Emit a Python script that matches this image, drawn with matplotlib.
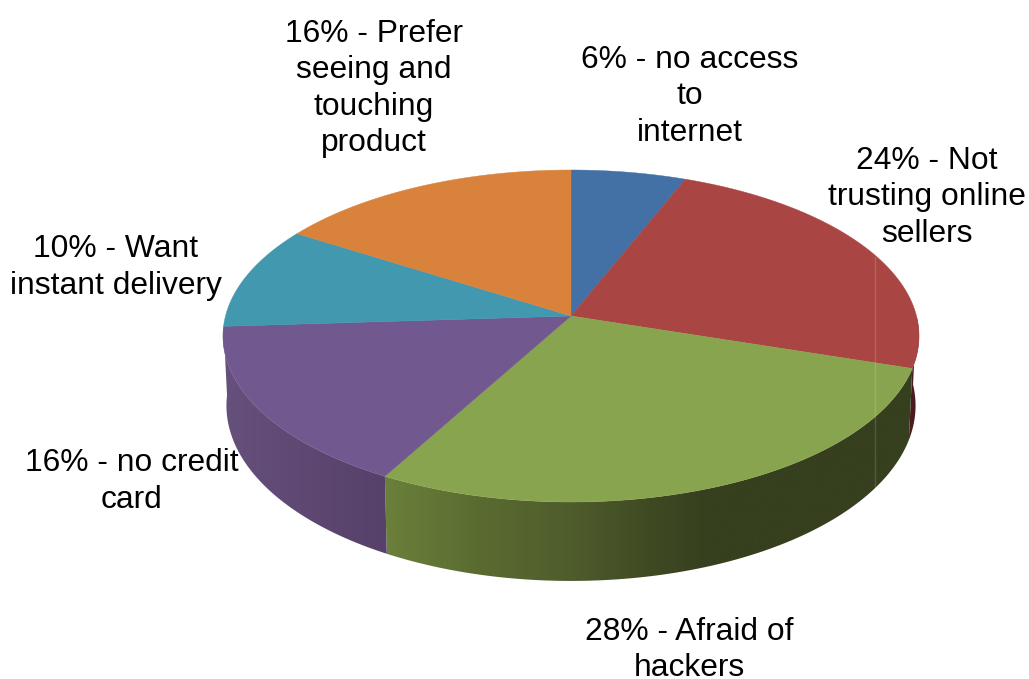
import matplotlib
matplotlib.use("Agg")
import matplotlib.pyplot as plt
from matplotlib.colors import to_rgb
from matplotlib.patches import Polygon
import numpy as np

plt.rcParams['font.family'] = ['Liberation Sans', 'DejaVu Sans']

# slices, clockwise from 12 o'clock
values = [6, 24, 28, 16, 10, 16]
names = ["no access\nto\ninternet", "Not\ntrusting online\nsellers", "Afraid of\nhackers",
         "no credit\ncard", "Want\ninstant delivery", "Prefer\nseeing and\ntouching\nproduct"]
colors = ["#4371A6", "#A94643", "#89A44E", "#71588F", "#4198AF", "#D9823C"]
label_x = [690, 927, 689, 132, 116, 374]
label_y = [96.5, 197.5, 650, 481.5, 267.5, 88.5]

# side shading, as (pixel x, colour) stops
side_stops = {
    1: [(870, "#4a1c20"), (935, "#4a1c20")],
    2: [(370, "#6b803a"), (385, "#6b803a"), (480, "#5a6b31"), (571, "#4f5c2c"), (650, "#3f4a23"), (710, "#363f1e"), (925, "#363f1e")],
    3: [(210, "#66507c"), (225, "#66507c"), (385, "#56416a"), (400, "#56416a")],
}

# perspective of the disc
cx, cy = 571, 316
a, b, k = 345.5, 163.6, 0.1205
low_cy, low_sx, low_sy = 384.5, 0.99, 1.056


def top_xy(deg):
    t = np.radians(deg)
    w = 1 + k * np.cos(t)
    return cx + a * np.sin(t) / w, cy - b * np.cos(t) / w


def low_xy(deg):
    t = np.radians(deg)
    w = 1 + k * np.cos(t)
    return cx + low_sx * a * np.sin(t) / w, low_cy - low_sy * b * np.cos(t) / w


fig = plt.figure(figsize=(10.29, 6.79), dpi=100)
ax = fig.add_axes([0, 0, 1, 1])

edges = np.concatenate([[0], np.cumsum(values)]) * 360 / sum(values)

# rim first, a horizontal gradient clipped to each slice's side
for i, stops in side_stops.items():
    start, end = max(edges[i], 90), min(edges[i + 1], 272)
    angs = np.linspace(start, end, 200)
    tx, ty = top_xy(angs)
    lx, ly = low_xy(angs)
    outline = np.c_[np.r_[tx, lx[::-1]], np.r_[ty, ly[::-1]]]
    xs = [s[0] for s in stops]
    rgb = np.array([to_rgb(s[1]) for s in stops])
    grid = np.linspace(xs[0], xs[-1], 400)
    strip = np.stack([np.interp(grid, xs, rgb[:, c]) for c in range(3)], axis=-1)[None, :, :]
    im = ax.imshow(strip, extent=(xs[0], xs[-1], 679, 0), aspect="auto", zorder=2, interpolation="bilinear")
    poly = Polygon(outline, closed=True, transform=ax.transData, fc="none", ec="none")
    ax.add_patch(poly)
    im.set_clip_path(poly)

ax.set_xlim(0, 1029)
ax.set_ylim(679, 0)
ax.axis("off")

# top faces
for i, col in enumerate(colors):
    angs = np.linspace(edges[i], edges[i + 1], 120)
    x, y = top_xy(angs)
    ax.fill(np.r_[cx, x], np.r_[cy, y], color=col, lw=0.3, zorder=3)

# faint seam in the original image
ax.plot([875, 875], [257, 487], color="white", alpha=0.15, lw=1, zorder=4)

for i, name in enumerate(names):
    ax.text(label_x[i], label_y[i], f"{values[i]}% - {name}", ha="center", va="center",
            fontsize=22.9, linespacing=1.285, color="black", zorder=5)

plt.savefig("out.png", dpi=100)
